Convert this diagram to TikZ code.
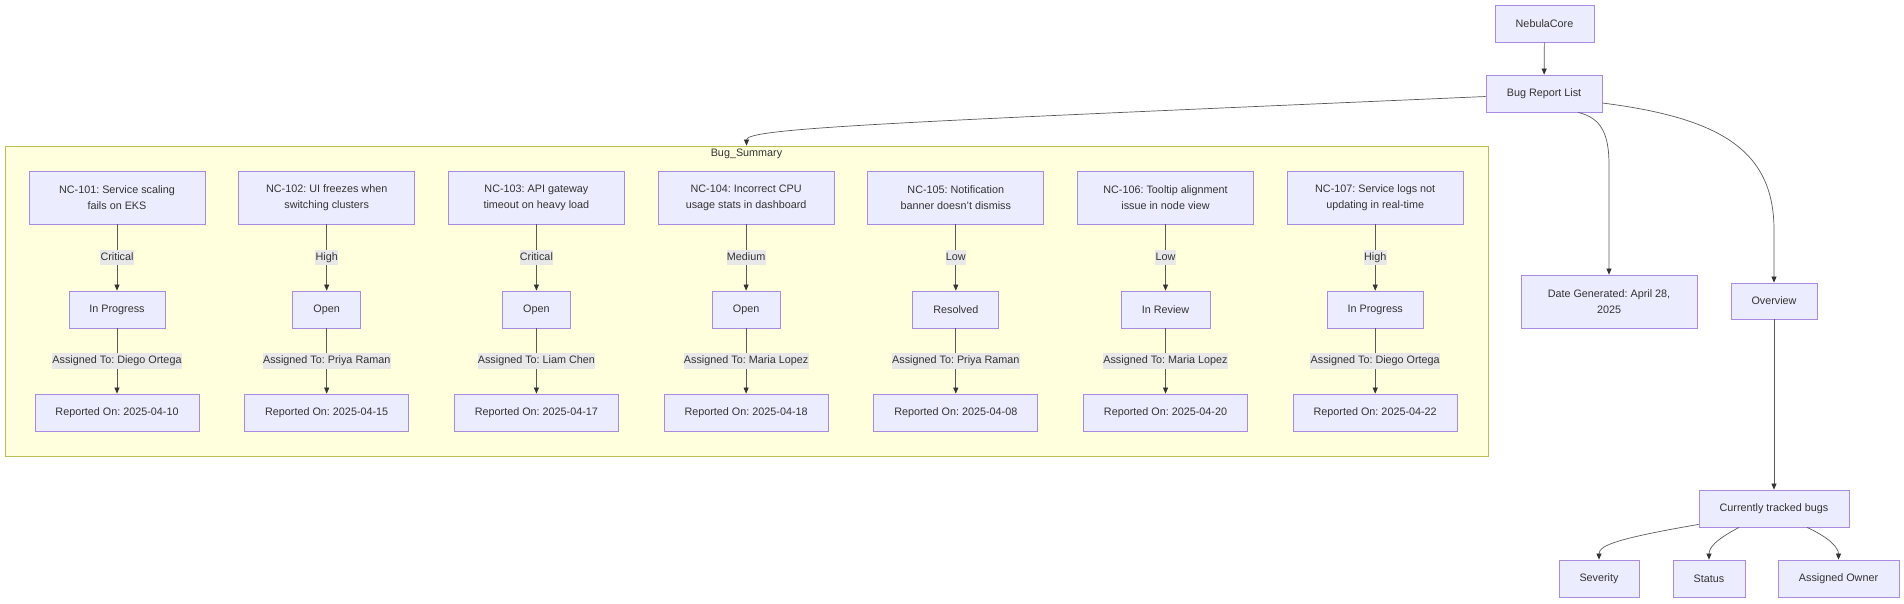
\documentclass[tikz,border=0pt]{standalone}
\usepackage{fontspec}
\setmainfont{Liberation Sans}
\usetikzlibrary{arrows.meta,calc}
\definecolor{nodefill}{HTML}{ECECFF}
\definecolor{nodeline}{HTML}{A98BE3}
\definecolor{clusterfill}{HTML}{FFFFDE}
\definecolor{clusterline}{HTML}{BDBD55}
\definecolor{txt}{HTML}{333333}
\definecolor{edgecol}{HTML}{5A5A5A}
\definecolor{tipcol}{HTML}{333333}
\definecolor{lblbg}{HTML}{E8E8E8}
\frenchspacing
\begin{document}
\begin{tikzpicture}[x=1pt,y=-1pt,
  font=\fontsize{10.8}{16}\selectfont,
  box/.style={draw=nodeline,fill=nodefill,line width=0.8pt,text=txt,align=center,inner sep=0pt,minimum height=37pt},
  tallbox/.style={box,minimum height=53pt,minimum width=176pt},
  conn/.style={draw=edgecol,line width=0.7pt,-{Triangle[length=6pt,width=5pt,color=tipcol]}},
  elbl/.style={fill=lblbg,text=txt,inner xsep=0.3pt,inner ysep=2.5pt,text height=8.2pt,text depth=2.6pt}
]
\useasboundingbox (0,0) rectangle (1904,603);

% cluster
\node[draw=clusterline,fill=clusterfill,line width=0.8pt,minimum width=1483pt,minimum height=310pt,inner sep=0pt] (bugsum) at (746.5,301) {};
\node[text=txt,inner sep=0pt] (bugsumtitle) at (746.5,154) {Bug\_Summary};

% columns
\foreach \i/\ttl/\sev/\st/\sw/\who/\dt in {
  1/{NC-101: Service scaling\\fails on EKS}/Critical/In Progress/96/Diego Ortega/2025-04-10,
  2/{NC-102: UI freezes when\\switching clusters}/High/Open/68/Priya Raman/2025-04-15,
  3/{NC-103: API gateway\\timeout on heavy load}/Critical/Open/68/Liam Chen/2025-04-17,
  4/{NC-104: Incorrect CPU\\usage stats in dashboard}/Medium/Open/68/Maria Lopez/2025-04-18,
  5/{NC-105: Notification\\banner doesn't dismiss}/Low/Resolved/86/Priya Raman/2025-04-08,
  6/{NC-106: Tooltip alignment\\issue in node view}/Low/In Review/89/Maria Lopez/2025-04-20,
  7/{NC-107: Service logs not\\updating in real-time}/High/In Progress/96/Diego Ortega/2025-04-22}{
  \pgfmathsetmacro{\cx}{117+209.7*(\i-1)}
  \node[tallbox] (t\i) at (\cx,197.5) {\ttl};
  \node[box,minimum width=\sw pt] (s\i) at (\cx,309.5) {\st};
  \node[box,minimum width=164pt] (r\i) at (\cx,412.5) {Reported On: \dt};
  \draw[conn] (t\i) -- node[elbl] {\sev} (s\i);
  \draw[conn] (s\i) -- node[elbl] {Assigned To: \who} (r\i);
}

% right side
\node[box,minimum width=99pt] (nc) at (1544.5,23.5) {NebulaCore};
\node[box,minimum width=116pt] (brl) at (1544,93.5) {Bug Report List};
\node[tallbox] (dg) at (1609,301.5) {Date Generated: April 28,\\2025};
\node[box,minimum width=86pt,minimum height=36pt] (ov) at (1774,301) {Overview};
\node[box,minimum width=150pt] (ctb) at (1774,508.5) {Currently tracked bugs};
\node[box,minimum width=80pt] (sev) at (1599,578.5) {Severity};
\node[box,minimum width=72pt] (st) at (1709,578.5) {Status};
\node[box,minimum width=121pt] (ao) at (1838.5,578.5) {Assigned Owner};

\draw[conn] (nc) -- (brl);
\draw[conn] ($(brl.west)+(0,3)$) .. controls (900,122) and (746.5,128) .. (bugsum.north);
\draw[conn] ($(brl.south)+(34,0)$) .. controls (1602,118) and (1609,135) .. (1609,165) -- (dg.north);
\draw[conn] ($(brl.east)+(0,9.5)$) .. controls (1720,118) and (1774,150) .. (1774,230) -- (ov.north);
\draw[conn] (ov) -- (ctb);
\draw[conn] ($(ctb.south west)+(0,-3)$) .. controls (1620,538) and (1599,545) .. (sev.north);
\draw[conn] ($(ctb.south)+(-35,0)$) .. controls (1715,540) and (1709,548) .. (st.north);
\draw[conn] ($(ctb.south)+(33,0)$) .. controls (1830,538) and (1838.5,548) .. (ao.north);
\end{tikzpicture}
\end{document}
